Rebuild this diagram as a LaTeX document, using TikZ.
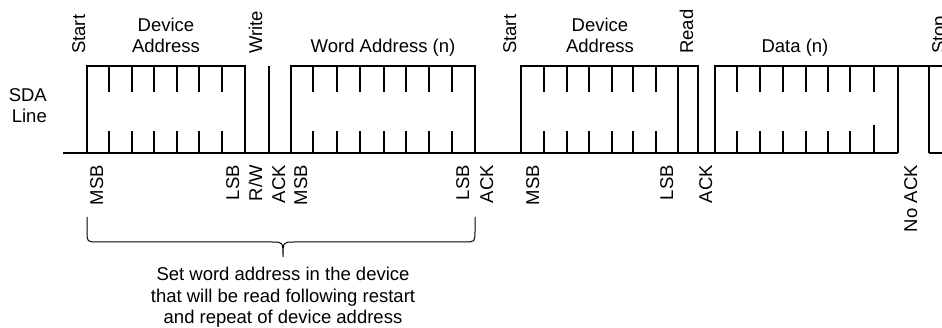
\documentclass[tikz,border=0pt]{standalone}
\usepackage{fontspec}
\setmainfont{Liberation Sans}

\tikzset{
  wave/.style={line width=2pt},
  bracket/.style={line width=1pt},
  vlabel/.style={rotate=90, inner sep=0pt},
  hlabel/.style={inner sep=0pt, align=center}
}

\begin{document}
\begin{tikzpicture}[x=1pt, y=-1pt, font=\fontsize{18.5}{21.5}\selectfont]

    \useasboundingbox (0,0) rectangle (942,328);

    % Base line of the SDA signal
    \draw[wave] (63,153) -- (898,153) (929,153) -- (942,153);

    % Start + device address + write
    \draw[wave] (87,153) -- (87,66) -- (245,66) -- (245,153);
    \draw[wave] (269,66) -- (269,153);

    % Word address (n)
    \draw[wave] (291,153) -- (291,66) -- (475,66) -- (475,153);

    % Restart + device address + read
    \draw[wave] (521,153) -- (521,66) -- (698,66) -- (698,153);
    \draw[wave] (678,66) -- (678,153);

    % Data (n), no ack and stop
    \draw[wave] (715,153) -- (715,66) -- (942,66);
    \draw[wave] (898,66) -- (898,153);
    \draw[wave] (929,66) -- (929,153);

    % Bit ticks
    \foreach \x in {109,132,154,177,199,222,313,337,360,384,406,429,452,544,567,589,612,633,656,737,760,783,806,828,850}{
        \draw[wave] (\x,66) -- (\x,92);
        \draw[wave] (\x,131) -- (\x,153);
    }
    \draw[wave] (874,66) -- (874,92);
    \draw[wave] (874,125) -- (874,153);

    % Signal name
    \node[hlabel, align=right, anchor=south east] (sda) at (47,123) {SDA\\Line};

    % Labels above the signal
    \node[vlabel, anchor=base west] (start1) at (85,54) {Start};
    \node[hlabel, anchor=south] (devaddr1) at (166,53) {Device\\Address};
    \node[vlabel, anchor=base west] (write) at (262,54) {Write};
    \node[hlabel, anchor=base] (wordaddr) at (383,53) {Word Address (n)};
    \node[vlabel, anchor=base west] (start2) at (516,54) {Start};
    \node[hlabel, anchor=south] (devaddr2) at (600,53) {Device\\Address};
    \node[vlabel, anchor=base west] (read) at (693,54) {Read};
    \node[hlabel, anchor=base] (data) at (795,53) {Data (n)};
    \node[vlabel, anchor=base west] (stop) at (945,54) {Stop};

    % Labels below the signal
    \node[vlabel, anchor=base east] (msb1) at (103,165) {MSB};
    \node[vlabel, anchor=base east] (lsb1) at (239,165) {LSB};
    \node[vlabel, anchor=base east] (rw) at (262,165) {R/W};
    \node[vlabel, anchor=base east] (ack1) at (285,165) {ACK};
    \node[vlabel, anchor=base east] (msb2) at (307,165) {MSB};
    \node[vlabel, anchor=base east] (lsb2) at (469,165) {LSB};
    \node[vlabel, anchor=base east] (ack2) at (493,165) {ACK};
    \node[vlabel, anchor=base east] (msb3) at (539,165) {MSB};
    \node[vlabel, anchor=base east] (lsb3) at (673,165) {LSB};
    \node[vlabel, anchor=base east] (ack3) at (712,165) {ACK};
    \node[vlabel, anchor=base east] (noack) at (917,165) {No ACK};

    % Brace under the write part
    \coordinate (bracel) at (87,217);
    \coordinate (bracer) at (475,217);
    \draw[bracket] (bracel) -- (87,231) .. controls (87,242) .. (98,242)
        -- (272,242) .. controls (283,242) .. (283,257)
        .. controls (283,242) .. (294,242) -- (464,242)
        .. controls (475,242) .. (475,231) -- (bracer);

    \node[hlabel, anchor=north] (note) at (283,267)
        {Set word address in the device\\that will be read following restart\\and repeat of device address};

\end{tikzpicture}
\end{document}
